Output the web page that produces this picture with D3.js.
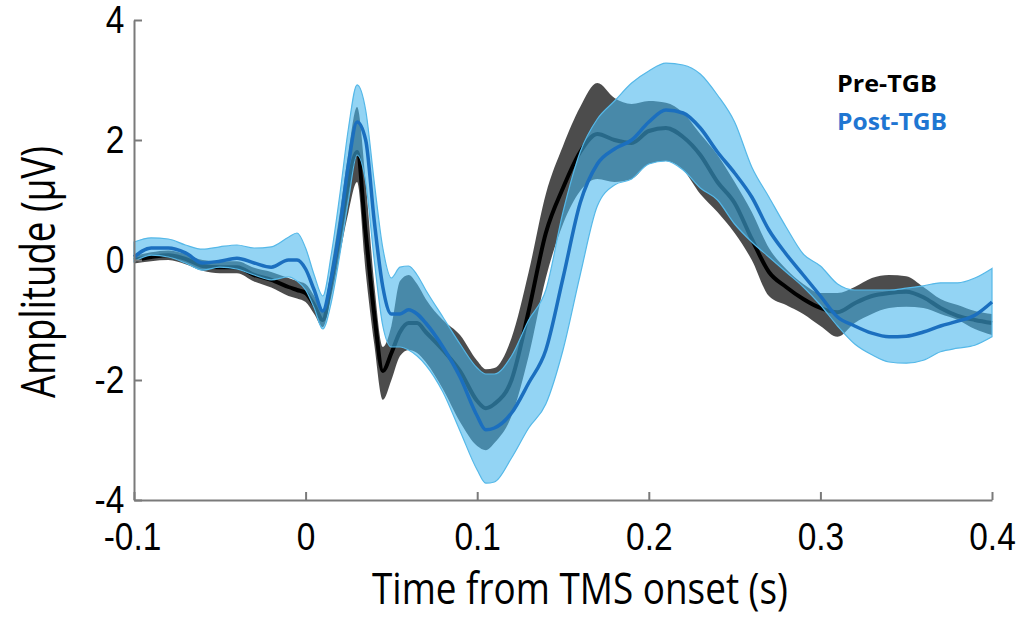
<!DOCTYPE html>
<html>
<head>
<meta charset="utf-8">
<script src="https://cdn.jsdelivr.net/npm/d3@7/dist/d3.min.js"></script>
<style>
  html, body { margin: 0; padding: 0; background: #ffffff; }
  svg { display: block; }
</style>
</head>
<body>
<svg id="chart" width="1020" height="618"></svg>
<script>
// ---------------- DATA ----------------
const time = [-0.1,-0.09,-0.08,-0.07,-0.06,-0.05,-0.04,-0.03,-0.02,-0.01,-0.005,0,0.005,0.01,0.015,0.02,0.025,0.03,0.035,0.04,0.045,0.05,0.055,0.06,0.065,0.07,0.08,0.09,0.1,0.105,0.11,0.12,0.13,0.14,0.15,0.16,0.17,0.18,0.19,0.2,0.21,0.22,0.23,0.24,0.25,0.26,0.27,0.28,0.29,0.3,0.31,0.32,0.33,0.34,0.35,0.36,0.37,0.38,0.39,0.4];

const preMean = [0.0,0.05,0.08,0.02,-0.1,-0.12,-0.12,-0.25,-0.33,-0.45,-0.5,-0.55,-0.75,-1.0,-0.35,0.45,1.3,1.8,0.45,-0.9,-1.85,-1.55,-1.2,-1.05,-1.05,-1.2,-1.5,-1.85,-2.35,-2.47,-2.4,-2.0,-0.85,0.45,1.2,1.8,2.1,2.0,1.95,2.15,2.2,2.05,1.75,1.3,0.95,0.35,-0.2,-0.45,-0.65,-0.8,-0.87,-0.72,-0.6,-0.55,-0.53,-0.62,-0.8,-0.93,-1.0,-1.05];
const preHi = [0.07,0.13,0.16,0.1,0.0,-0.02,-0.02,-0.13,-0.2,-0.3,-0.35,-0.4,-0.6,-0.85,-0.1,0.8,1.8,2.55,1.3,-0.4,-1.45,-1.1,-0.35,-0.25,-0.4,-0.65,-1.0,-1.25,-1.68,-1.82,-1.8,-1.3,-0.2,1.1,1.9,2.55,2.95,2.7,2.6,2.65,2.62,2.45,2.1,1.75,1.3,0.8,0.2,-0.15,-0.4,-0.55,-0.55,-0.45,-0.3,-0.25,-0.27,-0.45,-0.65,-0.75,-0.85,-0.9];
const preLo = [-0.06,-0.02,0.0,-0.07,-0.18,-0.22,-0.22,-0.36,-0.46,-0.6,-0.64,-0.7,-0.9,-1.12,-0.6,0.1,0.8,1.3,-0.2,-1.4,-2.33,-2.0,-1.6,-1.5,-1.55,-1.7,-2.15,-2.7,-3.1,-3.17,-3.05,-2.6,-1.6,-0.3,0.6,1.15,1.35,1.3,1.35,1.6,1.65,1.5,1.1,0.8,0.45,0.0,-0.6,-0.75,-0.9,-1.1,-1.28,-1.05,-0.9,-0.8,-0.78,-0.8,-0.9,-1.0,-1.15,-1.25];

const postMean = [0.05,0.2,0.2,0.12,-0.05,-0.02,0.03,-0.05,-0.12,0.0,0.0,-0.15,-0.5,-0.85,-0.3,0.55,1.6,2.3,2.0,0.65,-0.45,-0.9,-0.9,-0.83,-0.9,-1.05,-1.45,-1.95,-2.6,-2.83,-2.8,-2.55,-2.05,-1.5,-0.3,0.95,1.6,1.85,2.0,2.3,2.5,2.45,2.2,1.8,1.45,1.05,0.5,0.1,-0.25,-0.6,-0.95,-1.1,-1.22,-1.28,-1.27,-1.2,-1.1,-1.02,-0.92,-0.7];
const postHi = [0.3,0.37,0.35,0.25,0.18,0.22,0.25,0.2,0.22,0.38,0.45,0.2,-0.25,-0.6,0.1,1.1,2.2,2.92,2.5,1.3,0.2,-0.3,-0.12,-0.1,-0.25,-0.5,-0.95,-1.4,-1.8,-1.9,-1.9,-1.6,-1.0,-0.5,0.8,1.8,2.35,2.65,2.95,3.15,3.28,3.25,3.1,2.75,2.3,1.55,1.05,0.55,0.1,-0.1,-0.4,-0.5,-0.5,-0.5,-0.47,-0.43,-0.38,-0.38,-0.3,-0.14];
const postLo = [-0.03,0.08,0.05,-0.05,-0.17,-0.12,-0.15,-0.25,-0.33,-0.28,-0.35,-0.5,-0.8,-1.15,-0.7,0.1,1.0,1.75,1.3,0.0,-1.1,-1.45,-1.45,-1.5,-1.6,-1.75,-2.2,-2.85,-3.5,-3.72,-3.7,-3.3,-2.8,-2.4,-1.5,-0.25,0.9,1.25,1.35,1.6,1.65,1.5,1.2,1.0,0.6,0.3,0.05,-0.2,-0.45,-0.75,-1.1,-1.4,-1.58,-1.7,-1.72,-1.67,-1.53,-1.47,-1.42,-1.28];

const xTicks = [-0.1, 0, 0.1, 0.2, 0.3, 0.4];
const xTickLabels = ["-0.1", "0", "0.1", "0.2", "0.3", "0.4"];
const yTicks = [-4, -2, 0, 2, 4];
const yTickLabels = ["-4", "-2", "0", "2", "4"];
const seriesNames = ["Pre-TGB", "Post-TGB"];
const xTitle = "Time from TMS onset (s)";
const yTitle = "Amplitude (\u03BCV)";

// ---------------- LAYOUT ----------------
const svg = d3.select("#chart");
const x = d3.scaleLinear().domain([-0.1, 0.4]).range([134, 992]);
const y = d3.scaleLinear().domain([-4, 4]).range([500, 20]);

const pre = time.map((t, i) => ({t, m: preMean[i], lo: preLo[i], hi: preHi[i]}));
const post = time.map((t, i) => ({t, m: postMean[i], lo: postLo[i], hi: postHi[i]}));

const curve = d3.curveMonotoneX;
const area = d3.area().x(d => x(d.t)).y0(d => y(d.lo)).y1(d => y(d.hi)).curve(curve);
const line = d3.line().x(d => x(d.t)).y(d => y(d.m)).curve(curve);

const plot = svg.append("g");

// Pre-TGB band and mean
plot.append("path").datum(pre).attr("d", area)
  .attr("fill", "#333333").attr("fill-opacity", 0.88).attr("stroke", "none");
plot.append("path").datum(pre).attr("d", line)
  .attr("fill", "none").attr("stroke", "#000000").attr("stroke-width", 4);

// Post-TGB band and mean
plot.append("path").datum(post).attr("d", area)
  .attr("fill", "#45b5ec").attr("fill-opacity", 0.58)
  .attr("stroke", "#55b8e8").attr("stroke-width", 1.2);
plot.append("path").datum(post).attr("d", line)
  .attr("fill", "none").attr("stroke", "#1b6fbf").attr("stroke-width", 3.5);

// ---------------- AXES ----------------
const axisColor = "#7a7a7a";
const xAxis = d3.axisBottom(x).tickValues(xTicks)
  .tickFormat((d, i) => xTickLabels[i]).tickSizeInner(-8).tickSizeOuter(0).tickPadding(23);
const yAxis = d3.axisLeft(y).tickValues(yTicks)
  .tickFormat((d, i) => yTickLabels[i]).tickSizeInner(-8).tickSizeOuter(0).tickPadding(11);

const gx = svg.append("g").attr("transform", "translate(0,500)").call(xAxis);
const gy = svg.append("g").attr("transform", "translate(134,0)").call(yAxis);

[gx, gy].forEach(g => {
  g.select(".domain").attr("stroke", axisColor).attr("stroke-width", 2);
  g.selectAll(".tick line").attr("stroke", axisColor).attr("stroke-width", 2);
  g.selectAll(".tick text")
    .attr("fill", "#000")
    .style("font-family", "'Liberation Sans', Arial, sans-serif")
    .style("font-size", "38px")
    .attr("transform", "scale(0.88,1)");
});
gx.selectAll(".tick text").filter((d) => d === -0.1).attr("transform", "translate(-2,0) scale(0.88,1)");

// helper: ratio to fit a text element to a target length along its own direction
function fit(sel, target) {
  const w = sel.node().getComputedTextLength();
  return target / w;
}

// X title
const xt = svg.append("text").text(xTitle)
  .attr("text-anchor", "middle")
  .style("font-family", "'Open Sans', sans-serif")
  .style("font-size", "44px")
  .attr("fill", "#000");
const sx = fit(xt, 416);
xt.attr("transform", `translate(580,604) scale(${sx},1)`);

// Y title
const yt = svg.append("text").text(yTitle)
  .attr("text-anchor", "middle")
  .style("font-family", "'Open Sans', sans-serif")
  .style("font-size", "48px")
  .attr("fill", "#000");
const sy = fit(yt, 252);
yt.attr("transform", `translate(55,272) rotate(-90) scale(${sy},1)`);

// Legend
const legendColors = ["#000000", "#1f76d2"];
const legendBase = [92, 130];
const legendWidth = [100, 110];
seriesNames.forEach((name, i) => {
  const t = svg.append("text").text(name)
    .style("font-family", "'Open Sans', sans-serif")
    .style("font-weight", "700")
    .style("font-size", "24px")
    .attr("fill", legendColors[i]);
  const s = fit(t, legendWidth[i]);
  t.attr("transform", `translate(837,${legendBase[i]}) scale(${s},1)`);
});
</script>
</body>
</html>
